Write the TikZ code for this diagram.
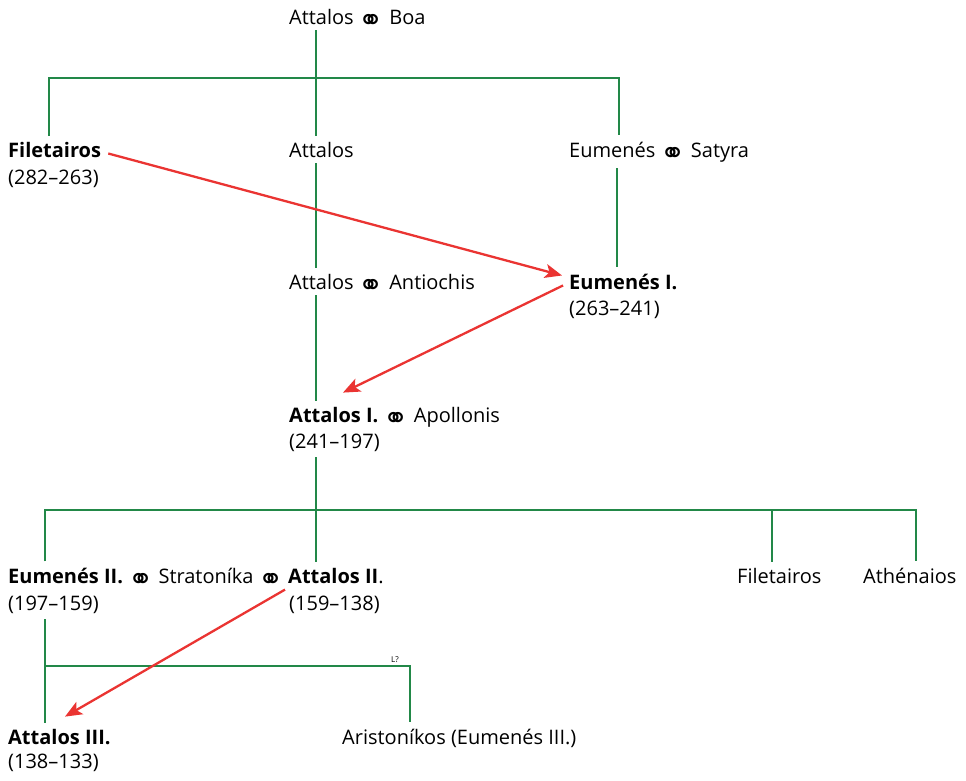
\documentclass[tikz,border=0pt]{standalone}
\usepackage{fontspec}
\setmainfont{Open Sans}
\newfontfamily\marrfont{DejaVu Sans}
\usetikzlibrary{arrows.meta,calc}

\definecolor{treegreen}{RGB}{34,136,72}
\definecolor{rulered}{RGB}{234,52,50}
\newcommand{\oo}{{\marrfont\raisebox{-6pt}[8pt][0pt]{\scalebox{1.5}[1.5]{\char"26AD}}}}

\begin{document}
\begin{tikzpicture}[x=1pt,y=-1pt,
    person/.style={font=\fontsize{20}{24}\selectfont, inner xsep=0pt, inner ysep=0pt, anchor=base west},
    tree/.style={draw=treegreen, line width=2.8pt, shorten <=6pt, shorten >=6pt},
    rule/.style={draw=rulered, line width=2.3pt, -{Stealth[length=17pt,width=14pt,inset=4pt]}}]

    \useasboundingbox (0,0) rectangle (966,780);

    % Generation 1
    \node[person] (boa) at (289,24) {Attalos \oo{} Boa};

    % Generation 2
    \node[person] (filet) at (8,157) {\textbf{Filetairos}};
    \node[person] (filetd) at (8,184) {(282–263)};
    \node[person] (attalos) at (289,157) {Attalos};
    \node[person] (satyra) at (569,157) {Eumenés \oo{} Satyra};

    % Generation 3
    \node[person] (antiochis) at (289,289) {Attalos \oo{} Antiochis};
    \node[person] (eumenes1) at (569,289) {\textbf{Eumenés I.}};
    \node[person] (eumenes1d) at (569,315) {(263–241)};

    % Generation 4
    \node[person] (attalos1) at (289,422) {\textbf{Attalos I.} \oo{} Apollonis};
    \node[person] (attalos1d) at (289,448) {(241–197)};

    % Generation 5
    \node[person] (eumenes2) at (8,583) {\textbf{Eumenés II.} \oo{} Stratoníka \oo{}};
    \node[person] (eumenes2d) at (8,610) {(197–159)};
    \node[person] (attalos2) at (288,583) {\textbf{Attalos II}.};
    \node[person] (attalos2d) at (289,610) {(159–138)};
    \node[person] (filet2) at (737,583) {Filetairos};
    \node[person] (athen) at (863,583) {Athénaios};

    % Generation 6
    \node[person] (attalos3) at (8,744) {\textbf{Attalos III.}};
    \node[person] (attalos3d) at (8,768) {(138–133)};
    \node[person] (aristo) at (342,744) {Aristoníkos (Eumenés III.)};

    % Junctions of the tree
    \coordinate (j1) at (316,78);
    \coordinate (j2) at (316,510);
    \coordinate (j3) at (45,666);

    % Lines of descent
    \draw[tree] (boa.south -| j1) -- (attalos.north -| j1);
    \draw[tree] (filet.north -| 49,0) |- (j1) -| (satyra.north -| 619,0);
    \draw[tree] (attalos.south -| j1) -- (antiochis.north -| j1);
    \draw[tree] (satyra.south -| 617,0) -- (eumenes1.north -| 617,0);
    \draw[tree] (antiochis.south -| j1) -- (attalos1.north -| j1);
    \draw[tree] (attalos1d.south -| j2) -- (attalos2.north -| j2);
    \draw[tree] (eumenes2.north -| j3) |- (j2) -| (athen.north -| 916,0);
    \draw[tree, shorten <=0pt] (j2 -| 772,0) -- (filet2.north -| 772,0);
    \draw[tree] (eumenes2d.south -| j3) -- (attalos3.north -| j3);
    \draw[tree, shorten <=0pt] (j3) -| (aristo.north -| 410,0);
    \node[font=\fontsize{8}{9}\selectfont, anchor=base, inner sep=0pt] (lq) at (395,662) {L?};

    % Succession to the throne
    \draw[rule] ($(filet.east)+(7,4)$) -- ($(eumenes1.north west)+(-7,2)$);
    \draw[rule] ($(eumenes1.west)+(-6,4)$) -- ($(attalos1.north west)+(54,-14)$);
    \draw[rule] ($(attalos2.north west)+(-3,22)$) -- ($(attalos3.north west)+(57,-12)$);

\end{tikzpicture}
\end{document}
